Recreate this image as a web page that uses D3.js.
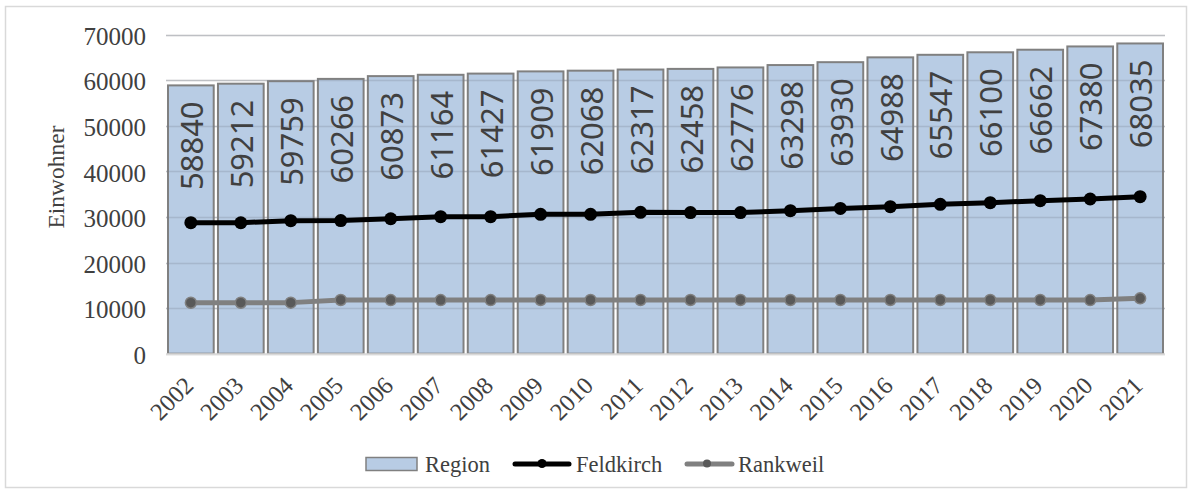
<!DOCTYPE html>
<html>
<head>
<meta charset="utf-8">
<script src="https://cdn.jsdelivr.net/npm/d3@7"></script>
<style>
  html, body { margin: 0; padding: 0; background: #fff; }
  svg { display: block; }
</style>
</head>
<body>
<svg id="chart" width="1192" height="497"></svg>
<script>
// Population figures per year
const years = ["2002","2003","2004","2005","2006","2007","2008","2009","2010","2011",
               "2012","2013","2014","2015","2016","2017","2018","2019","2020","2021"];
const region = [58840,59212,59759,60266,60873,61164,61427,61909,62068,62317,
                62458,62776,63298,63930,64988,65547,66100,66662,67380,68035];
const feldkirch = [28730,28720,29170,29200,29600,30040,30050,30570,30570,31000,
                   30950,30950,31360,31850,32240,32760,33120,33550,33920,34430];
const rankweil = [11180,11180,11200,11780,11760,11760,11760,11780,11780,11780,
                  11780,11780,11780,11780,11780,11780,11780,11780,11760,12150];
const yTicks = [0,10000,20000,30000,40000,50000,60000,70000];
const seriesNames = ["Region","Feldkirch","Rankweil"];

const serif = "'Liberation Serif', 'Times New Roman', serif";
const sans = "'Noto Sans', 'Open Sans', sans-serif";
const textColor = "#404040";
const barFill = "#b8cce4";
const barStroke = "#808080";

const svg = d3.select("#chart");

// chart frame
svg.append("rect")
  .attr("x", 5.5).attr("y", 6.5).attr("width", 1181).attr("height", 481)
  .attr("fill", "#fff").attr("stroke", "#d9d9d9").attr("stroke-width", 1.5);

const x = d3.scaleBand().domain(years).range([166, 1165])
  .paddingInner(0.085).paddingOuter(0.04);
const y = d3.scaleLinear().domain([0, 70000]).range([353.7, 34.5]);

// light gridlines behind the bars
svg.append("g").selectAll("line").data(yTicks).join("line")
  .attr("x1", 166).attr("x2", 1165)
  .attr("y1", d => Math.round(y(d)) + 0.5).attr("y2", d => Math.round(y(d)) + 0.5)
  .attr("stroke", "#d9d9d9").attr("stroke-width", 1.5);

// Region bars
svg.append("g").selectAll("rect").data(region).join("rect")
  .attr("x", (d, i) => x(years[i]))
  .attr("y", d => y(d))
  .attr("width", x.bandwidth())
  .attr("height", d => y(0) - y(d))
  .attr("fill", barFill)
  .attr("stroke", barStroke).attr("stroke-width", 2);

// gridlines shown through the bars
svg.append("g").selectAll("line").data(yTicks.filter(t => t > 0)).join("line")
  .attr("x1", 166).attr("x2", 1165)
  .attr("y1", d => Math.round(y(d)) + 0.5).attr("y2", d => Math.round(y(d)) + 0.5)
  .attr("stroke", "rgba(110,120,135,0.25)").attr("stroke-width", 1.5);

// baseline
svg.append("line")
  .attr("x1", 166).attr("x2", 1165).attr("y1", y(0) + 0.5).attr("y2", y(0) + 0.5)
  .attr("stroke", "#d9d9d9").attr("stroke-width", 2);

// bar value labels, vertical
svg.append("g").selectAll("text").data(region).join("text")
  .attr("transform", (d, i) => `translate(${x(years[i]) + x.bandwidth() / 2 + 1},${y(d) + 16}) rotate(-90)`)
  .attr("text-anchor", "end")
  .attr("dy", "0.36em")
  .attr("font-family", sans).attr("font-size", 31)
  .attr("fill", textColor)
  .text(d => d);

// lines
const cx = i => x(years[i]) + x.bandwidth() / 2;
const line = d3.line().x((d, i) => cx(i)).y(d => y(d));

svg.append("path").datum(rankweil)
  .attr("d", line).attr("fill", "none")
  .attr("stroke", "#808080").attr("stroke-width", 5).attr("stroke-linejoin", "round");
svg.append("g").selectAll("circle").data(rankweil).join("circle")
  .attr("cx", (d, i) => cx(i)).attr("cy", d => y(d)).attr("r", 5.5)
  .attr("fill", "#595959").attr("stroke", "#808080").attr("stroke-width", 1.5);

svg.append("path").datum(feldkirch)
  .attr("d", line).attr("fill", "none")
  .attr("stroke", "#000").attr("stroke-width", 5).attr("stroke-linejoin", "round");
svg.append("g").selectAll("circle").data(feldkirch).join("circle")
  .attr("cx", (d, i) => cx(i)).attr("cy", d => y(d)).attr("r", 6.5)
  .attr("fill", "#000");

// y axis tick labels
svg.append("g").selectAll("text").data(yTicks).join("text")
  .attr("x", 146).attr("y", d => y(d) + 1.5)
  .attr("dy", "0.35em")
  .attr("text-anchor", "end")
  .attr("font-family", serif).attr("font-size", 25)
  .attr("fill", textColor)
  .text(d => d);

// x axis labels, slanted; baseline ends just below each bar's right side
svg.append("g").selectAll("text").data(years).join("text")
  .attr("transform", d => `translate(${x(d) + x.bandwidth() / 2 + 4},${387}) rotate(-45)`)
  .attr("text-anchor", "end")
  .attr("font-family", serif).attr("font-size", 24.5)
  .attr("fill", textColor)
  .text(d => d);

// y axis title
svg.append("text")
  .attr("transform", "translate(63.5,177) rotate(-90)")
  .attr("text-anchor", "middle")
  .attr("font-family", serif).attr("font-size", 23.5)
  .attr("fill", textColor)
  .text("Einwohner");

// legend
const lg = svg.append("g").attr("font-family", serif).attr("font-size", 22.5).attr("fill", textColor);
const ly = 464;
lg.append("rect").attr("x", 366).attr("y", 457.5).attr("width", 51).attr("height", 13)
  .attr("fill", barFill).attr("stroke", barStroke).attr("stroke-width", 1.5);
lg.append("text").attr("x", 425).attr("y", ly).attr("dy", "0.35em").text(seriesNames[0]);

lg.append("line").attr("x1", 515).attr("x2", 569).attr("y1", ly).attr("y2", ly)
  .attr("stroke", "#000").attr("stroke-width", 5).attr("stroke-linecap", "round");
lg.append("circle").attr("cx", 542).attr("cy", ly - 0.5).attr("r", 4.5).attr("fill", "#000");
lg.append("text").attr("x", 576).attr("y", ly).attr("dy", "0.35em").text(seriesNames[1]);

lg.append("line").attr("x1", 687).attr("x2", 732).attr("y1", ly).attr("y2", ly)
  .attr("stroke", "#808080").attr("stroke-width", 5).attr("stroke-linecap", "round");
lg.append("circle").attr("cx", 707).attr("cy", ly - 0.5).attr("r", 4).attr("fill", "#595959");
lg.append("text").attr("x", 738).attr("y", ly).attr("dy", "0.35em").text(seriesNames[2]);
</script>
</body>
</html>
